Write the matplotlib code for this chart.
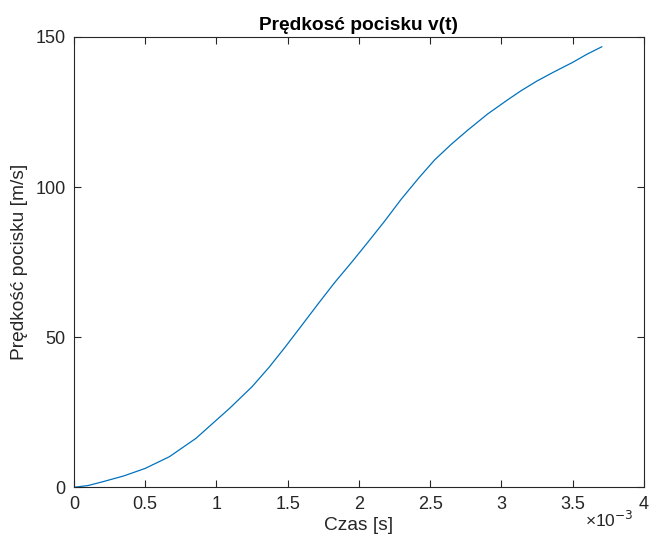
import numpy as np
import matplotlib.pyplot as plt
from matplotlib.ticker import FuncFormatter

plt.rcParams['font.family'] = ['Liberation Sans', 'DejaVu Sans']

# czas [s] i prędkość [m/s]
t = [0.0, 0.1e-3, 0.205e-3, 0.35e-3, 0.5e-3, 0.67e-3, 0.856e-3, 1.0e-3, 1.09e-3,
     1.25e-3, 1.37e-3, 1.484e-3, 1.6e-3, 1.717e-3, 1.83e-3, 1.95e-3, 2.066e-3,
     2.18e-3, 2.298e-3, 2.42e-3, 2.531e-3, 2.65e-3, 2.763e-3, 2.903e-3, 3.043e-3,
     3.136e-3, 3.25e-3, 3.368e-3, 3.5e-3, 3.6e-3, 3.705e-3]
v = [0.0, 0.6, 1.9, 3.8, 6.3, 10.2, 16.3, 22.4, 26.2,
     33.5, 40.0, 46.8, 54.0, 61.3, 68.2, 75.0, 81.8,
     88.6, 96.0, 103.0, 109.0, 114.3, 118.9, 124.3, 129.0,
     132.0, 135.3, 138.3, 141.5, 144.2, 146.7]

x_ticks = [0, 0.5e-3, 1e-3, 1.5e-3, 2e-3, 2.5e-3, 3e-3, 3.5e-3, 4e-3]
y_ticks = [0, 50, 100, 150]

fig = plt.figure(figsize=(6.49, 5.44), dpi=100)
ax = fig.add_axes([0.114, 0.1042, 0.878, 0.828])
ax.plot(t, v, color='#0072BD', lw=0.9)

ax.set_xlim(0, 4e-3)
ax.set_ylim(0, 150)
ax.set_xticks(x_ticks)
ax.set_yticks(y_ticks)
ax.xaxis.set_major_formatter(FuncFormatter(lambda x, p: '%g' % round(x * 1e3, 3)))

edge = '#262626'
for s in ax.spines.values():
    s.set_color(edge)
    s.set_linewidth(0.8)
ax.tick_params(direction='in', top=True, right=True, length=5, width=0.8,
               colors=edge, labelsize=13, pad=6)

ax.set_title('Prędkosć pocisku v(t)', fontsize=13.8, fontweight='bold', pad=5)
ax.set_xlabel('Czas [s]', fontsize=13.8, color=edge, labelpad=3)
ax.set_ylabel('Prędkość pocisku [m/s]', fontsize=13.8, color=edge, labelpad=5)
ax.text(0.982, -0.05, '×10$^{-3}$', transform=ax.transAxes, ha='right', va='top',
        fontsize=12.5, color=edge)

fig.savefig('out.png', dpi=100)
